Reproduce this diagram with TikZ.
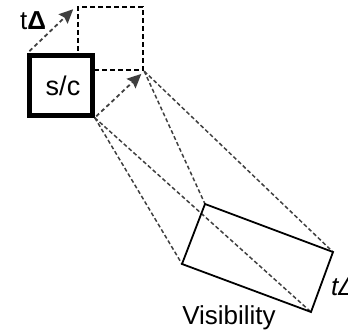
\documentclass[tikz,border=0pt]{standalone}
\usepackage{fontspec}
\setmainfont{Liberation Sans}
\usetikzlibrary{arrows.meta}
\begin{document}
\begin{tikzpicture}[x=1pt,y=-1pt,
  solidbox/.style={draw=black,line width=4.5pt,fill=white,minimum width=63pt,minimum height=60pt,inner sep=0pt},
  ghostbox/.style={draw=black,line width=2.4pt,dash pattern=on 5pt off 3pt,minimum width=65pt,minimum height=63pt,inner sep=0pt},
  sightline/.style={draw=black!75,line width=1.5pt,dash pattern=on 4pt off 2.5pt},
  motion/.style={draw=black!75,line width=1.8pt,dash pattern=on 4pt off 3pt,
    -{Stealth[length=14pt,width=13pt,inset=2pt]}},
  plate/.style={draw=black,line width=1.8pt,line join=miter},
  lbl/.style={inner sep=0pt,font=\fontsize{26}{30}\selectfont}]
\useasboundingbox (0,0) rectangle (348,336);

% displaced position, drawn first so the body covers it
\node[ghostbox] (ghost) at (110.5,38.5) {};
\node[solidbox] (sc) at (61,85.5) {};
\node[lbl,font=\fontsize{27}{31}\selectfont] (sclbl) at (63,86) {s/c};

% footprint corners
\coordinate (A) at (205,204);
\coordinate (B) at (333,252);
\coordinate (C) at (311,312);
\coordinate (D) at (182,264);

% lines of sight
\draw[sightline] (sc.south east) -- (D);
\draw[sightline] (sc.south east) -- (C);
\draw[sightline] (ghost.south east) -- (A);
\draw[sightline] (ghost.south east) -- (B);

% footprint
\draw[plate] (A) -- (B) -- (C) -- (D) -- cycle;

% motion arrows
\draw[motion,shorten <=3pt,shorten >=5pt] (sc.north west) -- (ghost.north west);
\draw[motion,shorten <=2pt,shorten >=4pt] (sc.south east) -- (ghost.south east);

% labels
\node[lbl] (dt) at (33,21) {t\textbf{Δ}};
\node[lbl,anchor=west] (dtr) at (331,287) {\itshape tΔ};
\node[lbl] (vis) at (229,318) {Visibility};
\end{tikzpicture}
\end{document}
